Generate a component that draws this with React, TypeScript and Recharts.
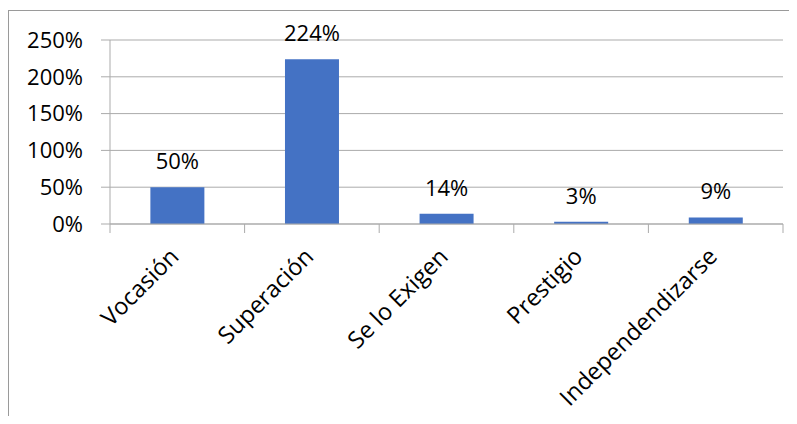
import React from "react";
import { BarChart, Bar, XAxis, YAxis, CartesianGrid, LabelList } from "recharts";

const categories = ["Vocasión", "Superación", "Se lo Exigen", "Prestigio", "Independendizarse"];
const values = [50, 224, 14, 3, 9];
const yTicks = [0, 50, 100, 150, 200, 250];

const data = categories.map((name, i) => ({ name, value: values[i] }));

const W = 797;
const H = 424;
const MARGIN = { top: 40, right: 14, left: 0, bottom: 10 };
const Y_WIDTH = 110;
const FONT = "'Open Sans', Lato, sans-serif";
const GRID = "#ababab";
const BAND = (W - MARGIN.left - MARGIN.right - Y_WIDTH) / categories.length;

function XTick(props: any) {
  const { x, y, payload, index } = props;
  const last = index === categories.length - 1;
  return (
    <g>
      <line x1={x - BAND / 2} y1={y} x2={x - BAND / 2} y2={y + 9} stroke={GRID} />
      {last && <line x1={x + BAND / 2} y1={y} x2={x + BAND / 2} y2={y + 9} stroke={GRID} />}
      <text
        x={x + 3}
        y={y + 34}
        textAnchor="end"
        transform={`rotate(-45, ${x + 3}, ${y + 34})`}
        fontSize={23.5}
        fontFamily={FONT}
        fill="#000"
      >
        {payload.value}
      </text>
    </g>
  );
}

export default function App() {
  return (
    <div style={{ position: "relative", width: W, height: H, margin: -8, background: "#fff" }}>
      <div
        style={{
          position: "absolute",
          left: 8,
          top: 10,
          right: 0,
          bottom: 0,
          borderLeft: "1px solid #9a9a9a",
          borderTop: "1px solid #9a9a9a",
        }}
      />
      <div style={{ position: "absolute", left: 0, top: 0 }}>
        <BarChart width={W} height={H} data={data} margin={MARGIN} barCategoryGap="30%">
          <CartesianGrid vertical={false} stroke={GRID} />
          <XAxis
            dataKey="name"
            interval={0}
            height={190}
            tickSize={0}
            tickMargin={0}
            axisLine={{ stroke: GRID }}
            tickLine={false}
            tick={<XTick />}
          />
          <YAxis
            width={Y_WIDTH}
            domain={[0, 250]}
            ticks={yTicks}
            tickFormatter={(v) => `${v}%`}
            tickSize={9}
            tickMargin={18}
            axisLine={{ stroke: GRID }}
            tickLine={{ stroke: GRID }}
            tick={{ fill: "#000", fontSize: 22, fontFamily: FONT }}
          />
          <Bar dataKey="value" fill="#4472C4" isAnimationActive={false}>
            <LabelList
              dataKey="value"
              position="top"
              offset={18}
              formatter={(v: any) => `${v}%`}
              style={{ fill: "#000", fontSize: 22, fontFamily: FONT }}
            />
          </Bar>
        </BarChart>
      </div>
    </div>
  );
}
